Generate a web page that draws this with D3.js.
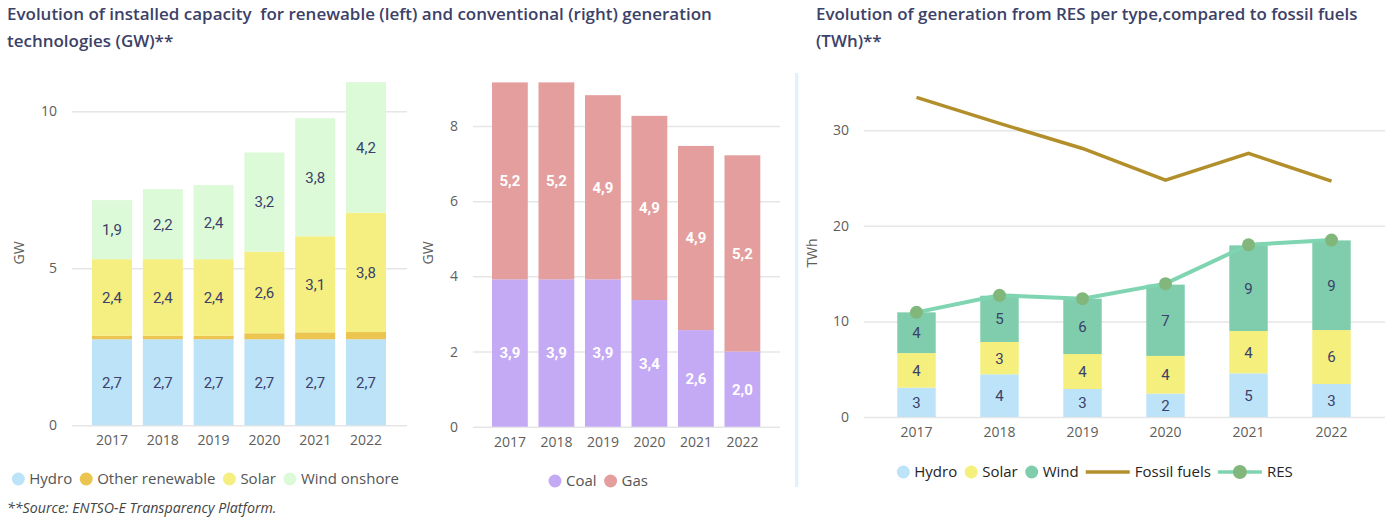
<!DOCTYPE html>
<html>
<head>
<meta charset="utf-8">
<script src="https://cdn.jsdelivr.net/npm/d3@7"></script>
<style>
body{margin:0;background:#fff;}
svg{display:block;font-family:"Open Sans",sans-serif;}
</style>
</head>
<body>
<svg id="chart"></svg>
<script>
// data
var years = ["2017", "2018", "2019", "2020", "2021", "2022"];
// installed renewable capacity, GW
var capHydro = [2.74, 2.74, 2.74, 2.74, 2.74, 2.74];
var capOther = [0.11, 0.11, 0.11, 0.19, 0.22, 0.23];
var capSolar = [2.44, 2.44, 2.44, 2.6, 3.06, 3.8];
var capWind = [1.88, 2.23, 2.36, 3.16, 3.76, 4.16];
// installed conventional capacity, GW
var capCoal = [3.92, 3.92, 3.92, 3.37, 2.57, 2.0];
var capGas = [5.24, 5.24, 4.9, 4.9, 4.9, 5.22];
// generation, TWh
var genHydro = [3.07, 4.47, 2.93, 2.45, 4.57, 3.45];
var genSolar = [3.62, 3.38, 3.66, 3.94, 4.43, 5.65];
var genWind = [4.26, 4.84, 5.79, 7.46, 8.96, 9.38];
var genFossil = [33.44, 30.72, 28.1, 24.79, 27.58, 24.69];
var genRes = [10.95, 12.73, 12.38, 13.95, 18.02, 18.51];
// tick labels
var leftTicks = [0, 5, 10];
var midTicks = [0, 2, 4, 6, 8];
var rightTicks = [0, 10, 20, 30];

var titleLeft = ["Evolution of installed capacity  for renewable (left) and conventional (right) generation", "technologies (GW)**"];
var titleRight = ["Evolution of generation from RES per type,compared to fossil fuels", "(TWh)**"];
var sourceNote = "**Source: ENTSO-E Transparency Platform.";

var titleColor = "#3c4167";
var labelDark = "#3b3f6b";
var tickColor = "#605e5c";
var gridColor = "#e6e6e6";

var svg = d3.select("#chart").attr("width", 1392).attr("height", 522);

// titles, fitted to the width they have in the picture
function addTitle(lines, x0, target){
        var t = svg.append("g").attr("fill", titleColor).attr("font-weight", 600);
        lines.forEach((s, i) => {
                t.append("text").attr("x", x0).attr("y", 20 + i * 27)
                        .attr("font-size", 16).attr("xml:space", "preserve").text(s);
        });
        var first = t.select("text").node();
        var size = 16 * target / first.getComputedTextLength();
        t.selectAll("text").attr("font-size", size);
}
addTitle(titleLeft, 7, 705);
addTitle(titleRight, 816, 542);

svg.append("text").attr("x", 7).attr("y", 513)
        .attr("font-size", 14.2).attr("font-style", "italic").attr("fill", "#444")
        .text(sourceNote);

// separator
svg.append("rect").attr("x", 795).attr("y", 73).attr("width", 3.3).attr("height", 414).attr("fill", "#e1f2fd");

function commaFmt(v){
        return d3.format(".1f")(v).replace(".", ",");
}

// y grid + tick labels
function yAxis(g, y, ticks, x0, x1, title, titleX){
        var ax = g.append("g").attr("transform", "translate(" + x0 + ",0)")
                .call(d3.axisLeft(y).tickValues(ticks).tickSize(-(x1 - x0)).tickPadding(15).tickFormat(d3.format("d")));
        ax.select(".domain").remove();
        ax.selectAll("line").attr("stroke", gridColor).attr("stroke-width", 1.5);
        ax.selectAll("text").attr("fill", tickColor).attr("font-size", 14).attr("font-family", "Open Sans");
        g.append("text").attr("transform", "translate(" + titleX + ",253) rotate(-90)")
                .attr("text-anchor", "middle").attr("dy", "0.35em")
                .attr("font-size", 14).attr("fill", tickColor).text(title);
}

function xAxis(g, x, y0){
        var ax = g.append("g").attr("transform", "translate(0," + y0 + ")")
                .call(d3.axisBottom(x).tickSize(0).tickPadding(10));
        ax.select(".domain").remove();
        ax.selectAll("text").attr("fill", tickColor).attr("font-size", 14).attr("font-family", "Open Sans");
}

// stacked bars with labels in the middle of each segment
function stackBars(g, x, y, keys, cols, colors, fmt, labelColor, weight, hideLabel){
        var rows = years.map((yr, i) => {
                var r = {year: yr};
                keys.forEach((k, j) => r[k] = cols[j][i]);
                return r;
        });
        var series = d3.stack().keys(keys)(rows);
        series.forEach((s, j) => {
                var layer = g.append("g");
                layer.selectAll("rect").data(s).enter().append("rect")
                        .attr("x", d => x(d.data.year)).attr("width", x.bandwidth())
                        .attr("y", d => y(d[1])).attr("height", d => y(d[0]) - y(d[1]))
                        .attr("fill", colors[j]);
                if(hideLabel[j]) return;
                layer.selectAll("text").data(s).enter().append("text")
                        .attr("x", d => x(d.data.year) + x.bandwidth() / 2)
                        .attr("y", d => (y(d[0]) + y(d[1])) / 2)
                        .attr("dy", "0.36em").attr("text-anchor", "middle")
                        .attr("font-family", "Roboto").attr("font-size", 15).attr("font-weight", weight)
                        .attr("fill", labelColor)
                        .text(d => fmt(d[1] - d[0]));
        });
}

// legend: items placed one after the other
function legend(items, x0, y0, color){
        var g = svg.append("g").attr("font-size", 15).attr("fill", color);
        var cx = x0;
        items.forEach(it => {
                var tx;
                if(it.type == "line"){
                        g.append("line").attr("x1", cx - 7).attr("x2", cx + 37).attr("y1", y0).attr("y2", y0)
                                .attr("stroke", it.color).attr("stroke-width", 3.5);
                        if(it.dot) g.append("circle").attr("cx", cx + 15).attr("cy", y0).attr("r", 7).attr("fill", it.dot);
                        tx = cx + 42;
                } else {
                        g.append("circle").attr("cx", cx).attr("cy", y0).attr("r", 6.5).attr("fill", it.color);
                        tx = cx + 11;
                }
                var t = g.append("text").attr("x", tx).attr("y", y0).attr("dy", "0.35em").text(it.name);
                cx = tx + t.node().getComputedTextLength() + 14;
        });
}

// ---- left: renewable capacity
var gLeft = svg.append("g");
var xLeft = d3.scaleBand().domain(years).range([81.2, 396.8]).padding(0.213);
var yLeft = d3.scaleLinear().domain([0, 10]).range([425.3, 111.3]);
yAxis(gLeft, yLeft, leftTicks, 72, 407, "GW", 19);
stackBars(gLeft, xLeft, yLeft, ["hydro", "other", "solar", "wind"],
        [capHydro, capOther, capSolar, capWind],
        ["#bde3f9", "#ebc54f", "#f5ee80", "#dcfad7"], commaFmt, labelDark, 400, [false, true, false, false]);
xAxis(gLeft, xLeft, 425.3);
legend([{name: "Hydro", color: "#bde3f9"}, {name: "Other renewable", color: "#ebc54f"},
        {name: "Solar", color: "#f5ee80"}, {name: "Wind onshore", color: "#dcfad7"}], 18.3, 479, "#555");

// ---- middle: conventional capacity
var gMid = svg.append("g");
var xMid = d3.scaleBand().domain(years).range([481.3, 771]).padding(0.23);
var yMid = d3.scaleLinear().domain([0, 8]).range([426.7, 126]);
yAxis(gMid, yMid, midTicks, 473, 780, "GW", 428);
stackBars(gMid, xMid, yMid, ["coal", "gas"], [capCoal, capGas],
        ["#c4a9f5", "#e49e9e"], commaFmt, "#fff", 700, [false, false]);
xAxis(gMid, xMid, 426.7);
legend([{name: "Coal", color: "#c4a9f5"}, {name: "Gas", color: "#e49e9e"}], 555, 481, "#555");

// ---- right: generation
var gRight = svg.append("g");
var xRight = d3.scaleBand().domain(years).range([852.7, 1395.3]).padding(0.537);
var yRight = d3.scaleLinear().domain([0, 30]).range([417, 130.3]);
yAxis(gRight, yRight, rightTicks, 864, 1385, "TWh", 812);
stackBars(gRight, xRight, yRight, ["hydro", "solar", "wind"], [genHydro, genSolar, genWind],
        ["#bde3f9", "#f5ef7e", "#7fcdac"], d3.format(".0f"), labelDark, 400, [false, false, false]);
xAxis(gRight, xRight, 417);

var cxRight = yr => xRight(yr) + xRight.bandwidth() / 2;
var valueLine = d3.line().x((d, i) => cxRight(years[i])).y(d => yRight(d));
gRight.append("path").datum(genFossil).attr("d", valueLine)
        .attr("fill", "none").attr("stroke", "#b38f2b").attr("stroke-width", 3.5);
gRight.append("path").datum(genRes).attr("d", valueLine)
        .attr("fill", "none").attr("stroke", "#7fd4b1").attr("stroke-width", 4);
gRight.selectAll(".resDot").data(genRes).enter().append("circle")
        .attr("class", "resDot")
        .attr("cx", (d, i) => cxRight(years[i])).attr("cy", d => yRight(d))
        .attr("r", 6.5).attr("fill", "#82b77b");

legend([{name: "Hydro", color: "#bde3f9"}, {name: "Solar", color: "#f5ef7e"}, {name: "Wind", color: "#7fcdac"},
        {name: "Fossil fuels", type: "line", color: "#b38f2b"},
        {name: "RES", type: "line", color: "#7fd4b1", dot: "#82b77b"}], 903.3, 472, "#252423");
</script>
</body>
</html>
